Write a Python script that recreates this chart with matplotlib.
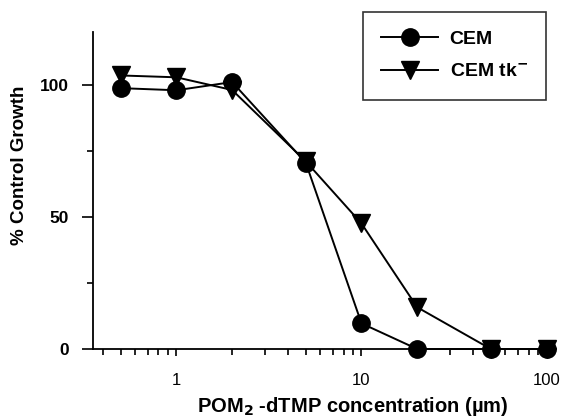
import matplotlib
matplotlib.use("Agg")
import matplotlib.pyplot as plt
from matplotlib.ticker import FixedLocator, NullFormatter

# concentrations (µM) and % control growth
conc = [0.5, 1, 2, 5, 10, 20, 50, 100]
cem = [98.7, 97.9, 101, 70.5, 9.7, 0, 0, 0]
cem_tk = [103.5, 102.8, 98, 71, 47.5, 15.8, 0, 0]

plt.rcParams['font.family'] = ['Liberation Sans', 'DejaVu Sans']

fig = plt.figure(figsize=(5.62, 4.19), dpi=100)
ax = fig.add_axes([0.165, 0.167, 0.825, 0.757])

ax.plot(conc, cem_tk, color='black', lw=1.4, marker='v', ms=13.5,
        label='CEM tk$^{\\mathbf{-}}$', clip_on=False, zorder=3)
ax.plot(conc, cem, color='black', lw=1.4, marker='o', ms=12.5,
        label='CEM', clip_on=False, zorder=4)

ax.set_xscale('log')
ax.set_xlim(0.353, 113)
ax.set_ylim(0, 120)

for s in ['top', 'right']:
    ax.spines[s].set_visible(False)
for s in ['left', 'bottom']:
    ax.spines[s].set_linewidth(1.3)

ax.set_yticks([0, 50, 100])
ax.set_yticklabels(['0', '50', '100'], fontweight='bold', fontsize=12.5)
ax.yaxis.set_minor_locator(FixedLocator([25, 75]))
ax.tick_params(axis='y', which='major', length=8, width=1.2, pad=9)
ax.tick_params(axis='y', which='minor', length=4, width=1.2)

ax.set_xticks([1, 10, 100])
ax.set_xticklabels(['1', '10', '100'], fontsize=12)
minors = [m * d for d in [0.1, 1, 10] for m in range(2, 10)]
ax.xaxis.set_minor_locator(FixedLocator([v for v in minors if v > 0.353]))
ax.xaxis.set_minor_formatter(NullFormatter())
ax.tick_params(axis='x', which='major', length=5, width=1.2, pad=12)
ax.tick_params(axis='x', which='minor', length=4, width=1.2)

ax.set_ylabel('% Control Growth', fontweight='bold', fontsize=13.5)
ax.yaxis.set_label_coords(-0.14, 0.58)
ax.set_xlabel('POM$_\\mathbf{2}$ -dTMP concentration (\u00b5m)', fontweight='bold',
              fontsize=14.5)
ax.xaxis.set_label_coords(0.56, -0.145)

handles, labels = ax.get_legend_handles_labels()
leg = fig.legend(handles[::-1], labels[::-1], loc='upper left',
                 bbox_to_anchor=(363 / 562, 1 - 12 / 419), borderaxespad=0,
                 fancybox=False, edgecolor='#333333', framealpha=1,
                 handlelength=2.9, borderpad=0.95, labelspacing=0.8,
                 handletextpad=0.6, prop={'weight': 'bold', 'size': 14})
leg.get_frame().set_linewidth(1.2)

fig.savefig('out.png', dpi=100)
